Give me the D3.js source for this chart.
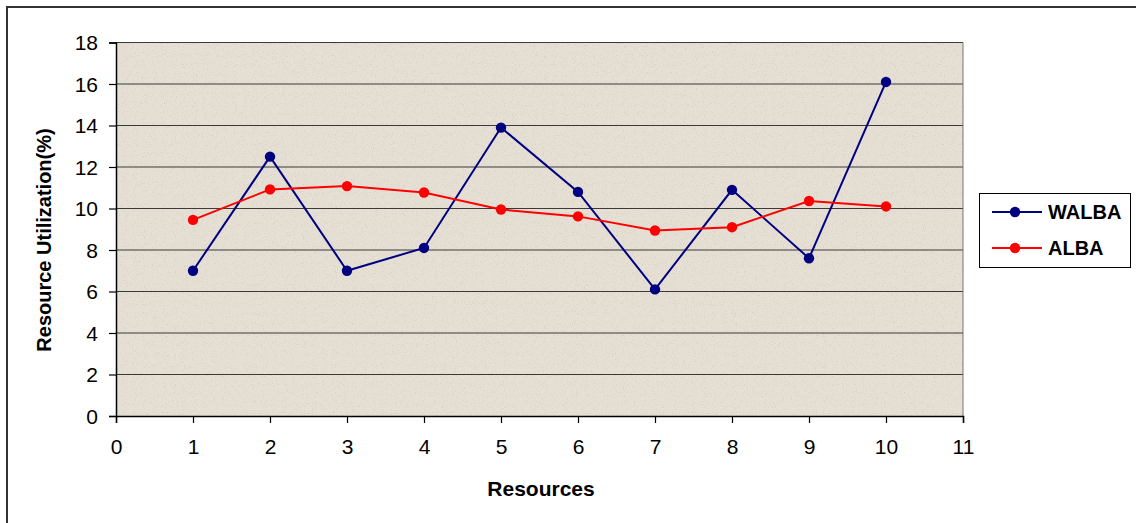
<!DOCTYPE html>
<html>
<head>
<meta charset="utf-8">
<script src="https://cdn.jsdelivr.net/npm/d3@7"></script>
<style>
  body { margin: 0; background: #fff; }
  svg text { font-family: "Liberation Sans", Arial, sans-serif; fill: #000; }
</style>
</head>
<body>
<div id="chart"></div>
<script>
const resources = [1, 2, 3, 4, 5, 6, 7, 8, 9, 10];
const walba = [7.0, 12.5, 7.0, 8.1, 13.9, 10.8, 6.1, 10.9, 7.6, 16.1];
const alba = [9.45, 10.92, 11.08, 10.77, 9.95, 9.62, 8.94, 9.1, 10.36, 10.1];
const xTicks = [0, 1, 2, 3, 4, 5, 6, 7, 8, 9, 10, 11];
const yTicks = [0, 2, 4, 6, 8, 10, 12, 14, 16, 18];
const seriesNames = ["WALBA", "ALBA"];
const seriesColors = ["#000080", "#ff0000"];

const width = 1136, height = 523;
const plot = { left: 116, top: 42.5, right: 963, bottom: 416 };

const svg = d3.select("#chart").append("svg")
  .attr("width", width)
  .attr("height", height);

// speckled paper texture for the plot area
const defs = svg.append("defs");
const filt = defs.append("filter").attr("id", "paper")
  .attr("x", 0).attr("y", 0).attr("width", 1).attr("height", 1);
filt.append("feTurbulence").attr("type", "fractalNoise")
  .attr("baseFrequency", 0.9).attr("numOctaves", 2).attr("seed", 4).attr("result", "noise");
filt.append("feColorMatrix").attr("in", "noise").attr("type", "matrix")
  .attr("values", "0 0 0 0 0.5  0 0 0 0 0.47  0 0 0 0 0.43  0 0 0 -1.6 0.72")
  .attr("result", "dots");
filt.append("feFlood").attr("flood-color", "#e6dfd4").attr("result", "base");
filt.append("feComposite").attr("in", "dots").attr("in2", "base").attr("operator", "over");

// outer frame (top and left edges visible)
svg.append("path")
  .attr("d", `M7,${height} V7 H${width}`)
  .attr("fill", "none").attr("stroke", "#333").attr("stroke-width", 2);

const x = d3.scaleLinear().domain([0, 11]).range([plot.left, plot.right]);
const y = d3.scaleLinear().domain([0, 18]).range([plot.bottom, plot.top]);

svg.append("rect")
  .attr("x", plot.left).attr("y", plot.top)
  .attr("width", plot.right - plot.left).attr("height", plot.bottom - plot.top)
  .attr("fill", "#e6dfd4")
  .attr("filter", "url(#paper)");

// gridlines
svg.append("g")
  .selectAll("line")
  .data(yTicks.filter(d => d > 0))
  .join("line")
  .attr("x1", plot.left).attr("x2", plot.right)
  .attr("y1", d => y(d)).attr("y2", d => y(d))
  .attr("stroke", "#3a3a3a").attr("stroke-width", 1.2);

// right border of plot
svg.append("line")
  .attr("x1", plot.right).attr("x2", plot.right)
  .attr("y1", plot.top).attr("y2", plot.bottom)
  .attr("stroke", "#777").attr("stroke-width", 1);

// axes
const yAxis = svg.append("g")
  .attr("transform", `translate(${plot.left},0)`)
  .call(d3.axisLeft(y).tickValues(yTicks).tickSize(7).tickPadding(11));
const xAxis = svg.append("g")
  .attr("transform", `translate(0,${plot.bottom})`)
  .call(d3.axisBottom(x).tickValues(xTicks).tickSize(7).tickPadding(16));

[xAxis, yAxis].forEach(a => {
  a.select(".domain").attr("stroke", "#000").attr("stroke-width", 1.5);
  a.selectAll(".tick line").attr("stroke", "#000").attr("stroke-width", 1.2);
  a.selectAll("text").attr("font-size", 21).attr("font-family", "Liberation Sans, Arial, sans-serif");
});
yAxis.selectAll("text").attr("dy", "0.35em");

// series
const line = d3.line().x((d, i) => x(resources[i])).y(d => y(d));
[walba, alba].forEach((vals, k) => {
  svg.append("path")
    .datum(vals)
    .attr("d", line)
    .attr("fill", "none")
    .attr("stroke", seriesColors[k])
    .attr("stroke-width", 2);
  svg.append("g")
    .selectAll("circle")
    .data(vals)
    .join("circle")
    .attr("cx", (d, i) => x(resources[i]))
    .attr("cy", d => y(d))
    .attr("r", 5.2)
    .attr("fill", seriesColors[k]);
});

// axis titles
svg.append("text")
  .attr("x", 541)
  .attr("y", 496)
  .attr("text-anchor", "middle")
  .attr("font-size", 21)
  .attr("font-weight", "bold")
  .text("Resources");

svg.append("text")
  .attr("transform", `translate(51,240) rotate(-90)`)
  .attr("text-anchor", "middle")
  .attr("font-size", 20)
  .attr("font-weight", "bold")
  .text("Resource Utilization(%)");

// legend
const lg = svg.append("g");
lg.append("rect")
  .attr("x", 979.5).attr("y", 193.5)
  .attr("width", 151).attr("height", 74)
  .attr("fill", "#fff").attr("stroke", "#000").attr("stroke-width", 1);
seriesNames.forEach((name, k) => {
  const ly = 212 + k * 36;
  lg.append("line")
    .attr("x1", 992).attr("x2", 1042)
    .attr("y1", ly).attr("y2", ly)
    .attr("stroke", seriesColors[k]).attr("stroke-width", 2);
  lg.append("circle")
    .attr("cx", 1015).attr("cy", ly).attr("r", 5.2)
    .attr("fill", seriesColors[k]);
  lg.append("text")
    .attr("x", 1048).attr("y", ly)
    .attr("dy", "0.36em")
    .attr("font-size", 20)
    .attr("font-weight", "bold")
    .text(name);
});
</script>
</body>
</html>
